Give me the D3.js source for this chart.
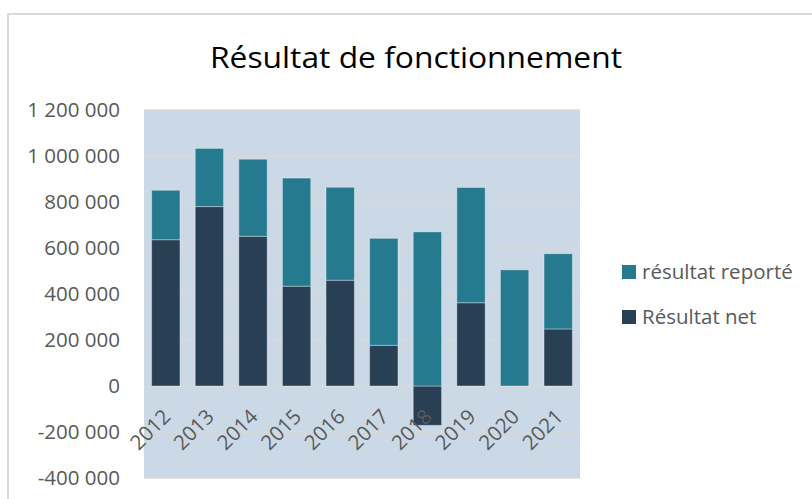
<!DOCTYPE html>
<html>
<head>
<meta charset="utf-8">
<script src="https://cdn.jsdelivr.net/npm/d3@7"></script>
<style>
  body { margin: 0; background: #fff; }
  svg { display: block; font-family: 'Open Sans', sans-serif; }
</style>
</head>
<body>
<svg id="chart" width="812" height="499"></svg>
<script>
const years = ['2012', '2013', '2014', '2015', '2016', '2017', '2018', '2019', '2020', '2021']
const resultatNet = [636000, 780000, 651000, 434000, 460000, 177000, -171000, 362000, 0, 248000]
const resultatReporte = [215000, 253000, 335000, 470000, 404000, 465000, 670000, 501000, 505000, 327000]
const yTicks = [-400000, -200000, 0, 200000, 400000, 600000, 800000, 1000000, 1200000]

const keys = ['Résultat net', 'résultat reporté']
const colors = {'Résultat net': '#283f54', 'résultat reporté': '#267a8f'}

const rows = years.map((y, i) => ({year: y, 'Résultat net': resultatNet[i], 'résultat reporté': resultatReporte[i]}))
const series = d3.stack().keys(keys).offset(d3.stackOffsetDiverging)(rows)

const fr = d3.formatLocale({decimal: ',', thousands: ' ', grouping: [3], currency: ['', ' €'], minus: '-'})
const fmt = fr.format(',d')

const svg = d3.select('#chart')

// outer frame
svg.append('path')
  .attr('d', 'M8,499V14H812')
  .attr('fill', 'none')
  .attr('stroke', '#d9d9d9')
  .attr('stroke-width', 2)

const plot = {left: 144, right: 580, top: 110, bottom: 478}

const x = d3.scaleBand().domain(years).range([plot.left, plot.right]).paddingInner(0.35).paddingOuter(0.175)
const y = d3.scaleLinear().domain([-400000, 1200000]).range([plot.bottom, plot.top])

svg.append('rect')
  .attr('x', plot.left).attr('y', plot.top)
  .attr('width', plot.right - plot.left).attr('height', plot.bottom - plot.top)
  .attr('fill', '#cbd9e6')

// grid
svg.append('g').selectAll('line').data(yTicks).enter().append('line')
  .attr('x1', plot.left).attr('x2', plot.right)
  .attr('y1', d => y(d)).attr('y2', d => y(d))
  .attr('stroke', '#d9d9d9').attr('stroke-width', 1.5)

// y axis labels
const yAxis = svg.append('g')
  .attr('transform', `translate(${plot.left - 24},0)`)
  .call(d3.axisLeft(y).tickValues(yTicks).tickFormat(fmt).tickSize(0).tickPadding(0))
yAxis.select('.domain').remove()
yAxis.selectAll('text')
  .attr('font-family', "'Open Sans', sans-serif")
  .attr('font-size', 20.5)
  .attr('fill', '#595959')

// bars
svg.append('g').selectAll('g').data(series).enter().append('g')
    .attr('fill', d => colors[d.key])
  .selectAll('rect').data(d => d).enter().append('rect')
    .attr('x', d => x(d.data.year))
    .attr('width', x.bandwidth())
    .attr('y', d => y(Math.max(d[0], d[1])))
    .attr('height', d => Math.abs(y(d[0]) - y(d[1])))
    .attr('stroke', 'rgba(255,255,255,0.35)')
    .attr('stroke-width', 1)

// x labels
svg.append('g').selectAll('text').data(years).enter().append('text')
  .attr('transform', d => `translate(${x(d) + x.bandwidth() / 2 + 6},${y(0) + 32}) rotate(-45)`)
  .attr('text-anchor', 'end')
  .attr('font-size', 20.5)
  .attr('fill', '#595959')
  .text(d => d)

// title
svg.append('text')
  .attr('x', 416).attr('y', 68)
  .attr('text-anchor', 'middle')
  .attr('font-size', 30)
  .attr('textLength', 412)
  .attr('lengthAdjust', 'spacingAndGlyphs')
  .attr('fill', '#000')
  .text('Résultat de fonctionnement')

// legend
const legend = svg.append('g').selectAll('g').data(keys.slice().reverse()).enter().append('g')
  .attr('transform', (d, i) => `translate(622,${265 + i * 45})`)
legend.append('rect')
  .attr('width', 14).attr('height', 14)
  .attr('fill', d => colors[d])
legend.append('text')
  .attr('x', 20).attr('y', 14)
  .attr('font-size', 20.5)
  .attr('fill', '#595959')
  .text(d => d)
</script>
</body>
</html>
